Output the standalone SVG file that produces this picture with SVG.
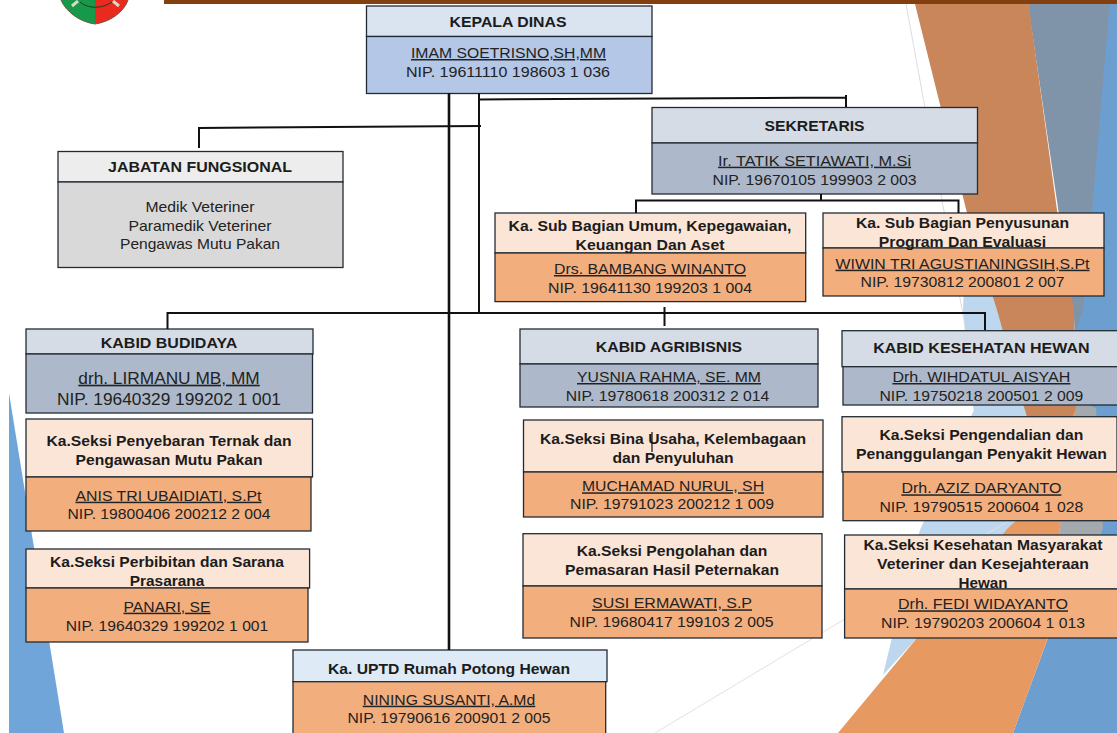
<svg xmlns="http://www.w3.org/2000/svg" width="1117" height="733" viewBox="0 0 1117 733">
<style>
text{font-family:"Liberation Sans",Arial,sans-serif;font-size:15px;fill:#222;text-anchor:middle}
.t{font-weight:bold;fill:#1c1c1c}
.n{text-decoration:underline}
.big{font-size:16.5px}
rect{stroke:#222b33;stroke-width:1.3}
.kh{fill:#dae3f0}.kb{fill:#b4c7e7}
.sh{fill:#d6dce5}.sb{fill:#adb9ca}
.gh{fill:#ededed}.gb{fill:#d9d9d9}
.oh{fill:#fbe5d6}.ob{fill:#f3ae7e}
.uh{fill:#deebf7}
#connectors path{fill:none;stroke:#111;stroke-width:2}
</style>
<rect width="1117" height="733" style="fill:#fff;stroke:none"/>
<g id="background" stroke="none">
<polygon points="9,393 64,733 9,733" fill="#6fa5d8"/>
<polygon points="1028,0 1117,0 1117,733 1013,733 1048,638 1060,528 1076,408 1074,310" fill="#6c9fd0"/>
<polygon points="1028,0 1110,0 1092,210 1083,310 1076,330 1028,4" fill="#7f93a9"/>
<polygon points="1076,400 1096,408 1103,528 1063,638 1048,638 1060,528" fill="#a4a9ae"/>
<polygon points="967,213 994,296 1050,490 917,638 883,675 895,625 920,530 974,410 963,310" fill="#bcd7ee"/>
<polygon points="914,0 1028,0 1057,210 1074,310 1076,408 1050,490 1024,407 997,310 967,213" fill="#c9865a"/>
<polygon points="1050,490 1076,408 1060,528 1048,638 1013,733 838,733 917,638 1008,528" fill="#e69a62"/>
<path d="M906 4L964 320L974 410" fill="none" stroke="#d8dde2" stroke-width="1"/>
<path d="M655 733L1010 520" fill="none" stroke="#e2e2e2" stroke-width="1"/>
<rect x="164" y="0" width="953" height="4" style="fill:#843f0e;stroke:none"/>
</g>
<g id="logo" stroke="none">
<path d="M61 0H95V24C80 22 66 12 61 0Z" fill="#17994a"/>
<path d="M95 0H128C124 12 110 22 95 24Z" fill="#ea2a1e"/>
<path d="M61 0C66 12 80 22 95 24C110 22 124 12 128 0" fill="none" stroke="#6b5a4a" stroke-width="1"/>
<path d="M72 6L78 1M119 6L113 1" stroke="#d8d8c8" stroke-width="3" fill="none"/>
<path d="M80 2C88 9 102 9 112 2" stroke="#243a28" stroke-width="1" fill="none"/>
</g>
<g id="kepala-dinas"><rect class="kh" x="366.5" y="6" width="285.5" height="30.5"/><rect class="kb" x="366.5" y="36.5" width="285.5" height="57"/>
<text class="t" x="508" y="26.5" textLength="117" lengthAdjust="spacingAndGlyphs">KEPALA DINAS</text><text class="n" x="508.5" y="58" textLength="195" lengthAdjust="spacingAndGlyphs">IMAM SOETRISNO,SH,MM</text><text x="508" y="76.7" textLength="204" lengthAdjust="spacingAndGlyphs">NIP. 19611110 198603 1 036</text></g>
<g id="jabatan-fungsional"><rect class="gh" x="58" y="151.5" width="285" height="30.5"/><rect class="gb" x="58" y="182" width="285" height="85.5"/>
<text class="t" x="200" y="172" textLength="184" lengthAdjust="spacingAndGlyphs">JABATAN FUNGSIONAL</text><text x="200" y="211.7" textLength="109" lengthAdjust="spacingAndGlyphs">Medik Veteriner</text><text x="200" y="230.7" textLength="143" lengthAdjust="spacingAndGlyphs">Paramedik Veteriner</text><text x="200" y="249" textLength="160" lengthAdjust="spacingAndGlyphs">Pengawas Mutu Pakan</text></g>
<g id="sekretaris"><rect class="sh" x="652" y="107.5" width="325.5" height="35.5"/><rect class="sb" x="652" y="143" width="325.5" height="51"/>
<text class="t" x="814.6" y="131" textLength="100" lengthAdjust="spacingAndGlyphs">SEKRETARIS</text><text class="n" x="814.6" y="165.7" textLength="193" lengthAdjust="spacingAndGlyphs">Ir. TATIK SETIAWATI, M.Si</text><text x="814.6" y="184.5" textLength="204" lengthAdjust="spacingAndGlyphs">NIP. 19670105 199903 2 003</text></g>
<g id="sub-umum"><rect class="oh" x="495" y="213" width="310.7" height="40"/><rect class="ob" x="495" y="253" width="310.7" height="48.6"/>
<text class="t" x="650" y="230.7" textLength="283" lengthAdjust="spacingAndGlyphs">Ka. Sub Bagian Umum, Kepegawaian,</text><text class="t" x="650" y="249.7" textLength="149" lengthAdjust="spacingAndGlyphs">Keuangan Dan Aset</text><text class="n" x="650" y="274" textLength="192" lengthAdjust="spacingAndGlyphs">Drs. BAMBANG WINANTO</text><text x="650" y="293" textLength="204" lengthAdjust="spacingAndGlyphs">NIP. 19641130 199203 1 004</text></g>
<g id="sub-penyusunan"><rect class="oh" x="823" y="213" width="281" height="35"/><rect class="ob" x="823" y="248" width="281" height="48"/>
<text class="t" x="962.5" y="228" textLength="213" lengthAdjust="spacingAndGlyphs">Ka. Sub Bagian Penyusunan</text><text class="t" x="962.5" y="247" textLength="167.5" lengthAdjust="spacingAndGlyphs">Program Dan Evaluasi</text><text class="n" x="962.5" y="268.7" textLength="254" lengthAdjust="spacingAndGlyphs">WIWIN TRI AGUSTIANINGSIH,S.Pt</text><text x="962.5" y="287" textLength="204" lengthAdjust="spacingAndGlyphs">NIP. 19730812 200801 2 007</text></g>
<g id="kabid-budidaya"><rect class="sh" x="26" y="329" width="287" height="25"/><rect class="sb" x="26" y="354" width="286.5" height="59"/>
<text class="t" x="169" y="347.7" textLength="136.4" lengthAdjust="spacingAndGlyphs">KABID BUDIDAYA</text><text class="n big" x="169" y="383.7" textLength="181.4" lengthAdjust="spacingAndGlyphs">drh. LIRMANU MB, MM</text><text class="big" x="169" y="404.7" textLength="224" lengthAdjust="spacingAndGlyphs">NIP. 19640329 199202 1 001</text></g>
<g id="seksi-penyebaran"><rect class="oh" x="26" y="419" width="286.5" height="58"/><rect class="ob" x="26" y="477" width="285" height="54"/>
<text class="t" x="169" y="446" textLength="245" lengthAdjust="spacingAndGlyphs">Ka.Seksi Penyebaran Ternak dan</text><text class="t" x="169" y="465" textLength="187" lengthAdjust="spacingAndGlyphs">Pengawasan Mutu Pakan</text><text class="n" x="168.5" y="500.7" textLength="186" lengthAdjust="spacingAndGlyphs">ANIS TRI UBAIDIATI, S.Pt</text><text x="169" y="519.3" textLength="203" lengthAdjust="spacingAndGlyphs">NIP. 19800406 200212 2 004</text></g>
<g id="seksi-perbibitan"><rect class="oh" x="26" y="549" width="283.6" height="39"/><rect class="ob" x="26" y="588" width="282" height="54"/>
<text class="t" x="167" y="566.7" textLength="234" lengthAdjust="spacingAndGlyphs">Ka.Seksi Perbibitan dan Sarana</text><text class="t" x="167" y="585.7" textLength="74.6" lengthAdjust="spacingAndGlyphs">Prasarana</text><text class="n" x="167" y="611.7" textLength="87" lengthAdjust="spacingAndGlyphs">PANARI, SE</text><text x="167" y="630.7" textLength="202.5" lengthAdjust="spacingAndGlyphs">NIP. 19640329 199202 1 001</text></g>
<g id="uptd-rph"><rect class="uh" x="293" y="650" width="314" height="31.7"/><rect class="ob" x="293" y="681.7" width="312.7" height="70"/>
<text class="t" x="449" y="674" textLength="242" lengthAdjust="spacingAndGlyphs">Ka. UPTD Rumah Potong Hewan</text><text class="n" x="449" y="704.7" textLength="172.5" lengthAdjust="spacingAndGlyphs">NINING SUSANTI, A.Md</text><text x="449" y="723" textLength="203" lengthAdjust="spacingAndGlyphs">NIP. 19790616 200901 2 005</text></g>
<g id="kabid-agribisnis"><rect class="sh" x="520" y="329" width="298" height="35"/><rect class="sb" x="520" y="364" width="298" height="43"/>
<text class="t" x="669" y="352" textLength="146.4" lengthAdjust="spacingAndGlyphs">KABID AGRIBISNIS</text><text class="n" x="669" y="382" textLength="184" lengthAdjust="spacingAndGlyphs">YUSNIA RAHMA, SE. MM</text><text x="667.5" y="401" textLength="203.6" lengthAdjust="spacingAndGlyphs">NIP. 19780618 200312 2 014</text></g>
<g id="seksi-bina-usaha"><rect class="oh" x="523.5" y="420" width="299.5" height="52"/><rect class="ob" x="523.5" y="472" width="299.5" height="45"/>
<text class="t" x="673" y="444.3" textLength="266" lengthAdjust="spacingAndGlyphs">Ka.Seksi Bina Usaha, Kelembagaan</text><text class="t" x="673" y="463.3" textLength="121" lengthAdjust="spacingAndGlyphs">dan Penyuluhan</text><text class="n" x="673" y="491.3" textLength="182" lengthAdjust="spacingAndGlyphs">MUCHAMAD NURUL, SH</text><text x="672" y="509.3" textLength="204" lengthAdjust="spacingAndGlyphs">NIP. 19791023 200212 1 009</text></g>
<g id="seksi-pengolahan"><rect class="oh" x="523" y="533.7" width="299" height="52.3"/><rect class="ob" x="523" y="586" width="299" height="52"/>
<text class="t" x="672" y="556" textLength="190.7" lengthAdjust="spacingAndGlyphs">Ka.Seksi Pengolahan dan</text><text class="t" x="672" y="575" textLength="214" lengthAdjust="spacingAndGlyphs">Pemasaran Hasil Peternakan</text><text class="n" x="672" y="608.3" textLength="160" lengthAdjust="spacingAndGlyphs">SUSI ERMAWATI, S.P</text><text x="671.5" y="627.3" textLength="204" lengthAdjust="spacingAndGlyphs">NIP. 19680417 199103 2 005</text></g>
<g id="kabid-kesehatan"><rect class="sh" x="842" y="330.7" width="285" height="36"/><rect class="sb" x="843" y="366.7" width="285" height="38.3"/>
<text class="t" x="981.4" y="353.3" textLength="216.4" lengthAdjust="spacingAndGlyphs">KABID KESEHATAN HEWAN</text><text class="n" x="981.4" y="382" textLength="178" lengthAdjust="spacingAndGlyphs">Drh. WIHDATUL AISYAH</text><text x="981.4" y="401" textLength="204" lengthAdjust="spacingAndGlyphs">NIP. 19750218 200501 2 009</text></g>
<g id="seksi-pengendalian"><rect class="oh" x="842" y="416.7" width="275" height="55.3"/><rect class="ob" x="843" y="472" width="285" height="48.7"/>
<text class="t" x="981.4" y="440" textLength="204" lengthAdjust="spacingAndGlyphs">Ka.Seksi Pengendalian dan</text><text class="t" x="981.4" y="459" textLength="251" lengthAdjust="spacingAndGlyphs">Penanggulangan Penyakit Hewan</text><text class="n" x="981.4" y="493.3" textLength="160" lengthAdjust="spacingAndGlyphs">Drh. AZIZ DARYANTO</text><text x="981.4" y="512" textLength="204" lengthAdjust="spacingAndGlyphs">NIP. 19790515 200604 1 028</text></g>
<g id="seksi-kesmavet"><rect class="oh" x="844.6" y="535" width="285" height="54"/><rect class="ob" x="844.6" y="589" width="285" height="49"/>
<text class="t" x="983" y="550" textLength="239" lengthAdjust="spacingAndGlyphs">Ka.Seksi Kesehatan Masyarakat</text><text class="t" x="983" y="569" textLength="212" lengthAdjust="spacingAndGlyphs">Veteriner dan Kesejahteraan</text><text class="t" x="983" y="588" textLength="49" lengthAdjust="spacingAndGlyphs">Hewan</text><text class="n" x="983" y="609.3" textLength="170" lengthAdjust="spacingAndGlyphs">Drh. FEDI WIDAYANTO</text><text x="983" y="628.3" textLength="204" lengthAdjust="spacingAndGlyphs">NIP. 19790203 200604 1 013</text></g>
<g id="connectors">
<path d="M449 93V650" style="stroke-width:2.6"/>
<path d="M479 93V313"/>
<path d="M479 99.5L846 97.5M846 95V107"/>
<path d="M199 148V128L481 126"/>
<path d="M167.5 329V313H985V330"/>
<path d="M664.5 307V326"/>
<path d="M821 194V200.5M636 213V200.5H958.5V213"/>
<path d="M652 432V452" style="stroke-width:1.2"/>
</g>
</svg>
